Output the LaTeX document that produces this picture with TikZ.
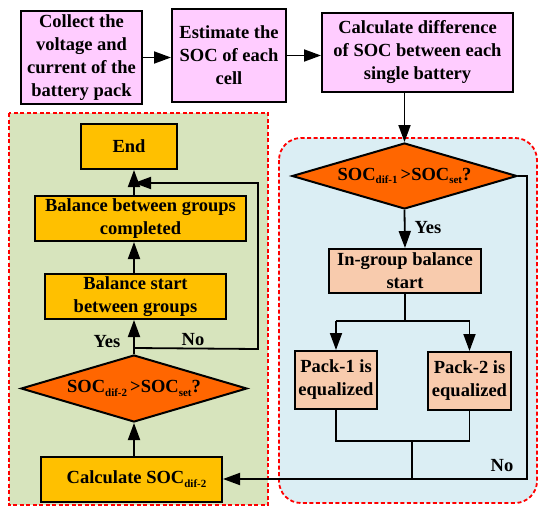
\documentclass[tikz,border=0pt]{standalone}
\usepackage{fontspec}
\setmainfont{Liberation Serif}
\usepackage{tikz}
\usetikzlibrary{positioning}
\usetikzlibrary{arrows.meta,shapes.geometric}

\definecolor{boxpink}{RGB}{255,204,255}
\definecolor{boxamber}{RGB}{255,192,0}
\definecolor{boxorange}{RGB}{255,102,0}
\definecolor{boxpeach}{RGB}{248,203,173}
\definecolor{areagreen}{RGB}{215,228,189}
\definecolor{areablue}{RGB}{219,238,244}
\definecolor{areared}{RGB}{255,0,0}

\newcommand{\socsub}[1]{\raisebox{-0.45ex}{\fontsize{11}{11}\selectfont #1}}

\begin{document}
\begin{tikzpicture}[x=1pt,y=-1pt,
	every node/.style={font=\fontsize{18.5}{23}\selectfont\bfseries, align=center, inner sep=0pt},
	pinkbox/.style={draw, line width=2pt, fill=boxpink},
	amberbox/.style={draw, line width=2pt, fill=boxamber, minimum height=45pt},
	peachbox/.style={draw, line width=2pt, fill=boxpeach},
	decision/.style={diamond, draw, line width=2pt, fill=boxorange, aspect=3.4, minimum width=225pt, minimum height=66pt},
	area/.style={draw=areared, line width=1.8pt, dash pattern=on 4pt off 2.5pt},
	arr/.style={line width=1.8pt, -{Triangle[length=17pt,width=12pt]}},
	wire/.style={line width=1.8pt}]
\useasboundingbox (0,0) rectangle (550,517);
%[two dashed areas behind the chart]
\draw[area, fill=areagreen] (9,113) rectangle (268,505);
\draw[area, fill=areablue, rounded corners=22pt] (279,138) rectangle (537,503);

\node (collect)[pinkbox, minimum width=121pt, minimum height=93pt] at (81.5,57.5) {Collect the\\voltage and\\current of the\\battery pack};
\node (estimate)[pinkbox, minimum width=114pt, minimum height=93pt] at (229,55.5) {Estimate the\\SOC of each\\cell};
\node (difference)[pinkbox, minimum width=191pt, minimum height=79pt] at (417.5,52.5) {Calculate difference\\of SOC between each\\single battery};

\node (dif_one)[decision] at (404.5,176) {SOC\socsub{dif-1}\,>SOC\socsub{set}?};
\node (in_group)[peachbox, minimum width=152pt, minimum height=44pt] at (405,271) {In-group balance\\start};
\node (pack_one)[peachbox, minimum width=82pt, minimum height=58pt] at (336,380) {Pack-1 is\\equalized};
\node (pack_two)[peachbox, minimum width=83pt, minimum height=58pt] at (469.5,381) {Pack-2 is\\equalized};

\node (calc_two)[amberbox, minimum width=181pt] at (131.5,479.5) {\hspace{10pt}Calculate SOC\socsub{dif-2}};
\node (dif_two)[decision, minimum width=226pt, minimum height=67pt] at (134,388.5) {SOC\socsub{dif-2}\,>SOC\socsub{set}?};
\node (start)[amberbox, minimum width=181pt] at (135.5,296.5) {Balance start\\between groups};
\node (done)[amberbox, minimum width=211pt] at (140.5,218.5) {Balance between groups\\completed};
\node (end)[amberbox, minimum width=96pt] at (129,146.5) {End};

\node (yes_one) at (428,228) {Yes};
\node (no_one) at (502,466) {No};
\node (yes_two) at (107,342) {Yes};
\node (no_two) at (193,340) {No};

\coordinate (split) at (405,321);
\coordinate (join) at (412,441);
\coordinate (corner) at (527,479);
\coordinate (back) at (258,183);

\draw[arr] (collect.east) -- (collect.east -| estimate.west);
\draw[arr] (estimate.east) -- (estimate.east -| difference.west);
\draw[arr] (difference.south -| dif_one.north) -- (dif_one.north);
\draw[arr] (dif_one.south) -- (in_group.north);
\draw[wire] (in_group.south) -- (split);
\draw[wire] (split -| pack_one) -- (split -| pack_two);
\draw[arr] (split -| pack_one) -- (pack_one.north);
\draw[arr] (split -| pack_two) -- (pack_two.north);
\draw[wire] (pack_one.south) -- (pack_one.south |- join) -- (pack_two.south |- join) -- (pack_two.south);
\draw[wire] (join) -- (join |- corner);
\draw[arr] (dif_one.east) -- (dif_one.east -| corner) -- (corner) -- (calc_two.east |- corner);

\draw[arr] (calc_two.north -| dif_two.south) -- (dif_two.south);
\draw[arr] (dif_two.north) -- (dif_two.north |- start.south);
\draw[arr] (dif_two.north |- start.north) -- (dif_two.north |- done.south);
\draw[arr] (dif_two.north |- done.north) -- (dif_two.north |- end.south);
\draw[arr] (dif_two.north) ++(0,-6) -- (back |- 0,349) -- (back) -- (back -| dif_two.north);
\end{tikzpicture}
\end{document}
